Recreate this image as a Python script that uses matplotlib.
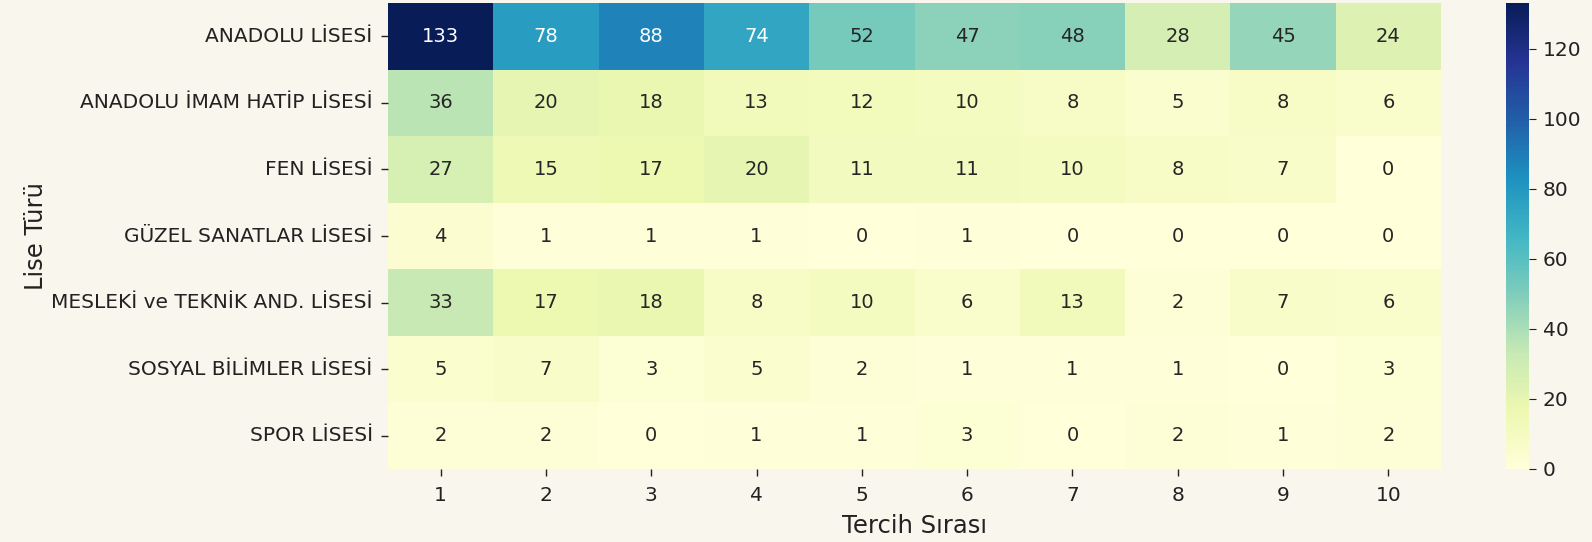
import matplotlib
matplotlib.use('Agg')
import matplotlib.pyplot as plt
import numpy as np
import seaborn as sns

# Lise türleri ve tercih sıraları
lise_turleri = [
    'ANADOLU LİSESİ',
    'ANADOLU İMAM HATİP LİSESİ',
    'FEN LİSESİ',
    'GÜZEL SANATLAR LİSESİ',
    'MESLEKİ ve TEKNİK AND. LİSESİ',
    'SOSYAL BİLİMLER LİSESİ',
    'SPOR LİSESİ',
]
tercih_sirasi = [1, 2, 3, 4, 5, 6, 7, 8, 9, 10]

anadolu = [133, 78, 88, 74, 52, 47, 48, 28, 45, 24]
imam_hatip = [36, 20, 18, 13, 12, 10, 8, 5, 8, 6]
fen = [27, 15, 17, 20, 11, 11, 10, 8, 7, 0]
guzel_sanatlar = [4, 1, 1, 1, 0, 1, 0, 0, 0, 0]
meslek = [33, 17, 18, 8, 10, 6, 13, 2, 7, 6]
sosyal = [5, 7, 3, 5, 2, 1, 1, 1, 0, 3]
spor = [2, 2, 0, 1, 1, 3, 0, 2, 1, 2]

values = np.array([anadolu, imam_hatip, fen, guzel_sanatlar, meslek, sosyal, spor])

bg = '#f9f6ee'
txt = '#222222'
fig = plt.figure(figsize=(15.92, 5.42), dpi=100, facecolor=bg)
ax = fig.add_axes([388 / 1592, 1 - 469 / 542, (1441 - 388) / 1592, (469 - 3) / 542])
cax = fig.add_axes([1506 / 1592, 1 - 469 / 542, 23 / 1592, (469 - 3) / 542])

sns.heatmap(values, ax=ax, cbar_ax=cax, cmap='YlGnBu', annot=True, fmt='d',
            annot_kws={'fontsize': 14},
            xticklabels=tercih_sirasi, yticklabels=lise_turleri)

ax.set_facecolor(bg)
ax.tick_params(axis='x', labelsize=14.5, length=5, width=1, pad=7, colors=txt)
ax.tick_params(axis='y', labelsize=14.5, length=5, width=1, pad=6, colors=txt)
ax.set_xlabel('Tercih Sırası', fontsize=17.5, color=txt, labelpad=7)
ax.set_ylabel('Lise Türü', fontsize=17.5, color=txt, labelpad=2)
plt.setp(ax.get_yticklabels(), rotation=0)

cax.tick_params(labelsize=14.5, length=5, pad=5, colors=txt)
cax.set_yticks([0, 20, 40, 60, 80, 100, 120])

fig.savefig('out.png', dpi=100, facecolor=bg)
